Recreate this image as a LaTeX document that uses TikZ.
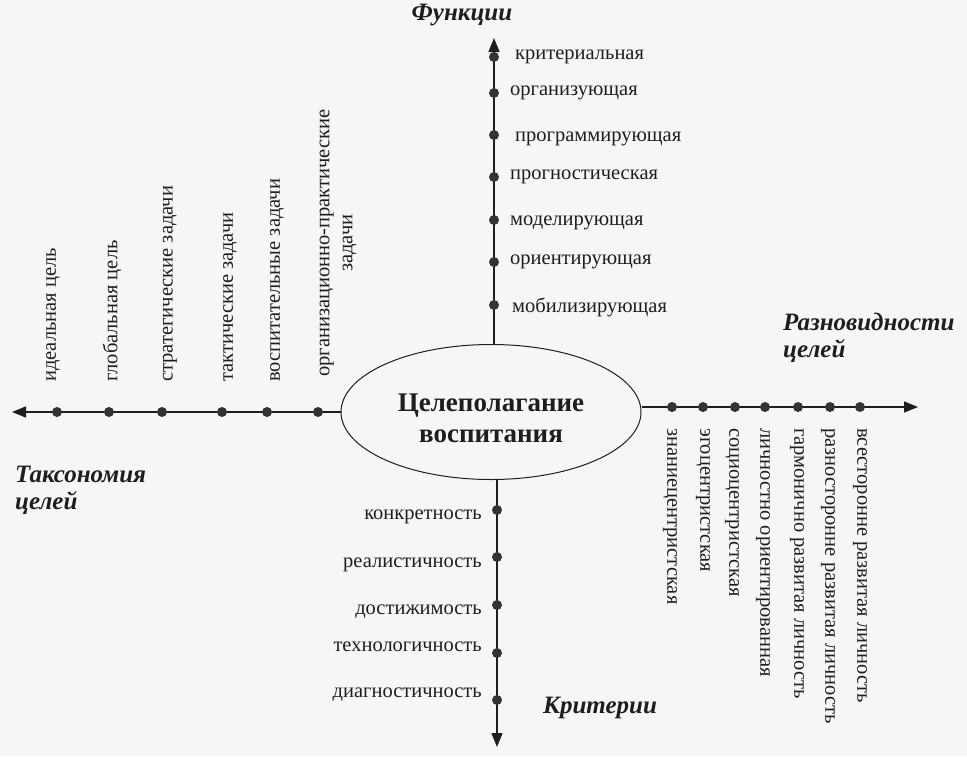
\documentclass[tikz,border=0pt]{standalone}
\usepackage{fontspec}
\setmainfont{Liberation Serif}
\usetikzlibrary{arrows.meta,shapes.geometric}
\definecolor{bg}{HTML}{F6F6F4}
\definecolor{ink}{HTML}{1E1E1E}
\definecolor{dotc}{HTML}{333333}
\begin{document}
\begin{tikzpicture}[x=1pt,y=-1pt,
  axis/.style={draw=ink, line width=1.4pt, -{Triangle[length=14pt,width=11pt]}},
  pt/.style={circle, fill=dotc, inner sep=0pt, minimum size=10pt},
  lbl/.style={font=\fontsize{20.5}{23}\selectfont, inner sep=0pt, text=ink},
  head/.style={font=\fontsize{25}{27}\selectfont\bfseries\itshape, inner sep=0pt, align=left, text=ink},
  centre/.style={ellipse, draw=ink, line width=1pt, minimum width=300pt, minimum height=135pt, inner sep=0pt},
  title/.style={font=\fontsize{27}{31}\selectfont\bfseries, align=center, text=ink, inner sep=0pt}]
\fill[bg] (0,0) rectangle (967,756);
\useasboundingbox (0,0) rectangle (967,756);

\node[centre] (c) at (491,412) {};
\node[title] (ct) at ([yshift=-6pt]c.center) {Целеполагание\\воспитания};

\coordinate (topend) at (494,38);
\coordinate (botend) at (497,747);
\coordinate (leftend) at (12,412);
\coordinate (rightend) at (918,407);

\draw[axis] (topend |- c.north) -- (topend);
\draw[axis] (botend |- c.south) -- (botend);
\draw[axis] (c.west) -- (leftend);
\draw[axis] (c.east |- rightend) -- (rightend);

% headings
\node[head] (hf) at (462,15) {Функции};
\node[head, anchor=west] (hr) at (783,338) {Разновидности\\целей};
\node[head, anchor=west] (ht) at (15,490) {Таксономия\\целей};
\node[head] (hk) at (600,708) {Критерии};

% top axis: functions
\foreach \y [count=\i] in {57,93,135,177,220,262,305}{
  \node[pt] (f\i) at (494,\y) {};
}
\node[lbl, anchor=west] (lf1) at (515,57) {критериальная};
\node[lbl, anchor=west] (lf2) at (510,93) {организующая};
\node[lbl, anchor=west] (lf3) at (515,139) {программирующая};
\node[lbl, anchor=west] (lf4) at (510,177) {прогностическая};
\node[lbl, anchor=west] (lf5) at (510,223) {моделирующая};
\node[lbl, anchor=west] (lf6) at (510,262) {ориентирующая};
\node[lbl, anchor=west] (lf7) at (512,307) {мобилизирующая};

% bottom axis: criteria
\foreach \y [count=\i] in {510,557,605,653,700}{
  \node[pt] (k\i) at (497,\y) {};
}
\node[lbl, anchor=east] (lk1) at (482,517) {конкретность};
\node[lbl, anchor=east] (lk2) at (482,565) {реалистичность};
\node[lbl, anchor=east] (lk3) at (482,612) {достижимость};
\node[lbl, anchor=east] (lk4) at (482,647) {технологичность};
\node[lbl, anchor=east] (lk5) at (482,695) {диагностичность};

% left axis: taxonomy
\foreach \x [count=\i] in {57,109,162,222,267,318}{
  \node[pt] (t\i) at (\x,412) {};
}
\node[lbl, rotate=90, anchor=west] (lt1) at (53,382) {идеальная цель};
\node[lbl, rotate=90, anchor=west] (lt2) at (112,382) {глобальная цель};
\node[lbl, rotate=90, anchor=west] (lt3) at (170,382) {стратегические задачи};
\node[lbl, rotate=90, anchor=west] (lt4) at (230,382) {тактические задачи};
\node[lbl, rotate=90, anchor=west] (lt5) at (277,382) {воспитательные задачи};
\node[lbl, rotate=90, anchor=west, align=center] (lt6) at (338,377) {организационно-практические\\задачи};

% right axis: kinds of goals
\foreach \x [count=\i] in {672,703,735,765,798,830,860}{
  \node[pt] (r\i) at (\x,407) {};
}
\node[lbl, rotate=-90, anchor=west] (lr1) at (670,428) {знаниецентристская};
\node[lbl, rotate=-90, anchor=west] (lr2) at (703,428) {эгоцентристская};
\node[lbl, rotate=-90, anchor=west] (lr3) at (732,428) {социоцентристская};
\node[lbl, rotate=-90, anchor=west] (lr4) at (763,428) {личностно ориентированная};
\node[lbl, rotate=-90, anchor=west] (lr5) at (797,428) {гармонично развитая личность};
\node[lbl, rotate=-90, anchor=west] (lr6) at (828,428) {разносторонне развитая личность};
\node[lbl, rotate=-90, anchor=west] (lr7) at (860,428) {всесторонне развитая личность};
\end{tikzpicture}
\end{document}
